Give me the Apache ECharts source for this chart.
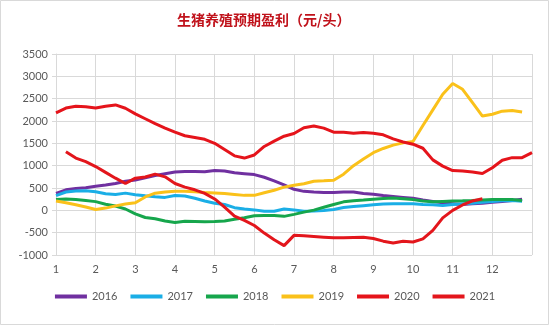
<!DOCTYPE html>
<html>
<head>
<meta charset="utf-8">
<script src="https://cdn.jsdelivr.net/npm/echarts@6/dist/echarts.min.js"></script>
<style>
html,body{margin:0;padding:0;background:#fff;}
#chart{width:550px;height:326px;}
</style>
</head>
<body>
<div id="chart"></div>
<script>
// month positions (quarter-month steps)
var months = [1,1.25,1.5,1.75,2,2.25,2.5,2.75,3,3.25,3.5,3.75,4,4.25,4.5,4.75,5,5.25,5.5,5.75,6,6.25,6.5,6.75,7,7.25,7.5,7.75,8,8.25,8.5,8.75,9,9.25,9.5,9.75,10,10.25,10.5,10.75,11,11.25,11.5,11.75,12,12.25,12.5,12.75,13];
var monthTicks = [1,2,3,4,5,6,7,8,9,10,11,12];
var seriesNames = ['2016','2017','2018','2019','2020','2021'];
var s2016 = [380,460,490,505,540,565,600,650,680,730,780,820,860,870,870,865,890,880,840,820,800,740,660,570,470,425,410,400,400,410,410,375,360,330,310,290,270,230,200,170,150,130,150,160,180,200,220,250];
var s2017 = [330,410,435,440,415,370,355,385,350,325,305,290,330,320,270,210,160,130,60,30,10,-20,-20,30,10,-20,-15,-5,20,65,85,105,125,140,150,150,145,130,125,110,130,150,160,180,200,215,220,205];
var s2018 = [240,255,240,220,195,135,95,30,-80,-160,-190,-240,-270,-245,-250,-255,-250,-240,-200,-165,-120,-115,-115,-135,-90,-40,5,70,130,190,215,230,250,265,275,260,240,210,190,200,210,215,222,230,240,240,240,220];
var s2019 = [210,170,125,75,20,50,100,140,170,300,385,410,425,425,415,400,390,375,355,335,335,395,450,520,560,595,650,660,672,810,1000,1150,1290,1385,1460,1510,1540,1900,2250,2600,2840,2710,2410,2110,2150,2220,2235,2200];
var s2020 = [2180,2290,2330,2320,2290,2330,2360,2285,2160,2050,1940,1840,1750,1670,1630,1590,1500,1360,1220,1170,1240,1430,1550,1660,1720,1850,1890,1840,1750,1747,1725,1745,1725,1690,1600,1530,1480,1390,1130,990,890,880,860,825,955,1120,1180,1180,1290];
var s2021 = [null,1310,1170,1090,980,850,720,600,720,745,810,750,600,520,460,380,255,70,-130,-225,-340,-510,-660,-790,-560,-570,-585,-600,-615,-615,-610,-605,-630,-690,-730,-690,-710,-640,-450,-170,0,120,210,260];
var colors = ['#7030A0','#1AAEE6','#16A64C','#FAC11A','#E5141B','#E3161C'];

var allValues = [s2016,s2017,s2018,s2019,s2020,s2021];
function pairs(vals){
  var out = [];
  for (var i=0;i<vals.length;i++){ if (vals[i]!==null) out.push([months[i], vals[i]]); }
  return out;
}
var font = 'Lato, "Liberation Sans", sans-serif';
var chart = echarts.init(document.getElementById('chart'), null, {renderer:'canvas'});
chart.setOption({
  backgroundColor:'#fff',
  animation:false,
  title:{
    text:'生猪养殖预期盈利（元/头）',
    left:172, top:8,
    textStyle:{fontFamily:'"Noto Sans CJK SC", sans-serif', fontSize:14, fontWeight:'bold', color:'#C0121B'}
  },
  legend:{
    data:seriesNames,
    bottom:19, left:'center',
    icon:'rect', itemWidth:32, itemHeight:4, itemGap:13,
    textStyle:{fontFamily:font, fontSize:11, color:'#595959'}
  },
  grid:{left:56, right:18, top:54, bottom:71, containLabel:false},
  xAxis:{
    type:'value', min:1, max:13, interval:1,
    axisLine:{show:true, lineStyle:{color:'#D9D9D9'}},
    axisTick:{show:true, length:4, lineStyle:{color:'#D9D9D9'}},
    splitLine:{show:true, lineStyle:{color:'#D9D9D9', width:1}},
    axisLabel:{
      margin:9, fontFamily:font, fontSize:11, color:'#595959',
      formatter:function(v){ return monthTicks.indexOf(v)>=0 ? String(v) : ''; }
    }
  },
  yAxis:{
    type:'value', min:-1000, max:3500, interval:500,
    axisLine:{show:true, lineStyle:{color:'#D9D9D9'}},
    axisTick:{show:true, length:4, lineStyle:{color:'#D9D9D9'}},
    splitLine:{show:true, lineStyle:{color:'#D9D9D9', width:1}},
    axisLabel:{margin:8, fontFamily:font, fontSize:11, color:'#595959',
      formatter:function(v){ return String(v); }}
  },
  series: seriesNames.map(function(n, i){
    return {
      name:n, type:'line', data:pairs(allValues[i]),
      showSymbol:false, symbol:'none', smooth:false,
      lineStyle:{width:3, color:colors[i]}, itemStyle:{color:colors[i]},
      z: 2+i
    };
  }),
  graphic:[{type:'rect', shape:{x:0.5,y:0.5,width:548,height:324}, style:{fill:null, stroke:'#D9D9D9', lineWidth:1}, silent:true}]
});
</script>
</body>
</html>
